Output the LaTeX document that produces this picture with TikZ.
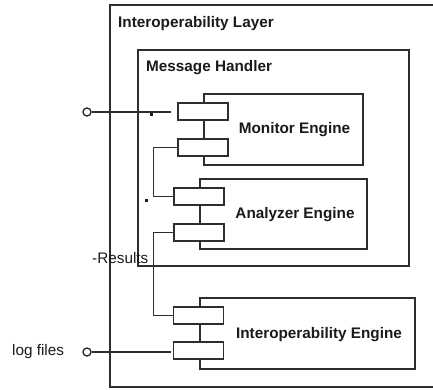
\documentclass[tikz,border=0pt]{standalone}
\usepackage{fontspec}
\setmainfont{Liberation Sans}
\definecolor{ln}{HTML}{2E2E2E}
\definecolor{tx}{HTML}{1A1A1A}
\begin{document}
\begin{tikzpicture}[x=1pt,y=-1pt,
  box/.style={draw=ln,line width=1.6pt,rectangle,inner sep=0pt},
  port/.style={draw=ln,line width=1.6pt,rectangle,inner sep=0pt,fill=white,minimum width=50pt,minimum height=17pt},
  conn/.style={draw=ln,line width=1.4pt},
  ball/.style={draw=ln,line width=1.4pt,circle,inner sep=0pt,minimum size=8pt,fill=white},
  mult/.style={fill=tx,rectangle,inner sep=0pt,minimum size=3pt},
  title/.style={font=\fontsize{15.3}{18}\selectfont\bfseries,text=tx,inner sep=0pt},
  plain/.style={font=\fontsize{15.3}{18}\selectfont,text=tx,inner sep=0pt}]
\useasboundingbox (0,0) rectangle (433,389);
% outer layer (right side runs off the picture)
\coordinate (oa) at (433,5);
\coordinate (ob) at (110,5);
\coordinate (oc) at (110,387);
\coordinate (od) at (433,387);
\draw[ln,line width=1.6pt] (oa) -- (ob) -- (oc) -- (od);
\node[title,anchor=base west] (lt) at (118,27) {Interoperability Layer};
% message handler
\node[box,minimum width=271pt,minimum height=216pt] (mh) at (273.5,158) {};
\node[title,anchor=base west] (mht) at (146,71) {Message Handler};
% components
\node[box,minimum width=159pt,minimum height=71pt] (mon) at (283.5,129.5) {};
\node[box,minimum width=167pt,minimum height=70pt] (ana) at (283.5,214) {};
\node[box,minimum width=215pt,minimum height=71pt] (ie) at (307.5,333.5) {};
\node[title,anchor=base] (monl) at (294.5,133) {Monitor Engine};
\node[title,anchor=base] (anal) at (295,218) {Analyzer Engine};
\node[title,anchor=base] (iel) at (319,338) {Interoperability Engine};
% ports
\node[port] (m1) at (203,111.5) {};
\node[port] (m2) at (203,147.5) {};
\node[port] (a1) at (199,196.5) {};
\node[port] (a2) at (199,232.5) {};
\node[port] (i1) at (198.5,315.5) {};
\node[port] (i2) at (198.5,350.5) {};
% external interfaces
\node[ball] (b1) at (87,112) {};
\node[ball] (b2) at (87,352) {};
\node[plain,anchor=base west] (lf) at (12,355) {log files};
\draw[conn,shorten >=6pt] (b1) -- (b1 -| m1.west);
\draw[conn,shorten >=2pt] (b2) -- (b2 -| i2.west);
% internal connectors
\draw[conn] (m2.west) -- ++(-24,0) |- (a1.west);
\draw[conn] (a2.west) -- ++(-20,0) |- (i1.west);
% multiplicity marks
\node[mult] (d1) at (151,114) {};
\node[mult] (d2) at (146,200) {};
\node[plain,anchor=base west] (res) at (92,263) {-Results};
\end{tikzpicture}
\end{document}
